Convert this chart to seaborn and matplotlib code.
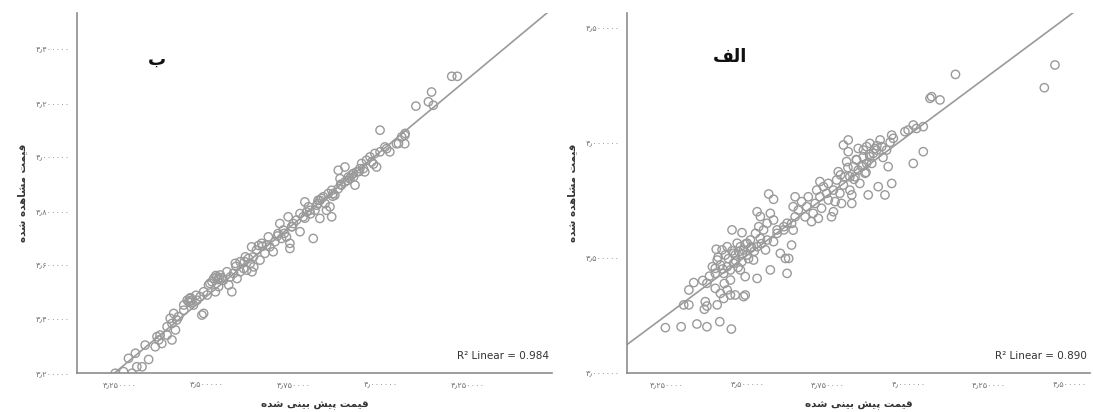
import matplotlib
matplotlib.use('Agg')
import matplotlib.pyplot as plt
import seaborn as sns
import pandas as pd

# panel "ب" : predicted vs observed
b_pred = [3.236, 3.260, 3.284, 3.274, 3.294, 3.298, 3.313, 3.332, 3.322, 3.351, 3.361, 3.370, 3.356, 3.365,
          3.399, 3.385, 3.385, 3.399, 3.413, 3.409, 3.394, 3.404, 3.418, 3.433, 3.433, 3.447, 3.456, 3.461,
          3.471, 3.485, 3.490, 3.480, 3.490, 3.500, 3.504, 3.514, 3.519, 3.528, 3.538, 3.533, 3.524, 3.547,
          3.562, 3.571, 3.557, 3.567, 3.576, 3.586, 3.595, 3.581, 3.595, 3.610, 3.624, 3.629, 3.634,
          3.605, 3.614, 3.619, 3.443, 3.450, 3.452, 3.525, 3.535, 3.530,
          3.628, 3.633, 3.652, 3.657, 3.666, 3.676, 3.680, 3.695, 3.690, 3.704, 3.709, 3.714, 3.728, 3.733,
          3.738, 3.738, 3.743, 3.748, 3.757, 3.767, 3.767, 3.776, 3.781, 3.791, 3.795, 3.805, 3.810, 3.815,
          3.819, 3.824, 3.829, 3.834, 3.839, 3.843, 3.848, 3.853, 3.858, 3.858, 3.867, 3.877, 3.877, 3.882,
          3.886, 3.896, 3.896, 3.906, 3.915, 3.920, 3.925, 3.930, 3.944, 3.949, 3.953, 3.958, 3.968, 3.973,
          3.982, 3.987, 3.997, 3.997, 4.011, 4.016, 4.025, 4.044, 4.059, 4.068, 4.068,
          3.642, 3.671, 3.719, 3.786, 3.824, 3.862, 3.910, 3.939,
          4.050, 4.069, 4.100, 4.136, 4.150, 4.145, 4.203, 4.219,
          3.452, 3.468, 3.508, 3.541, 3.583, 3.607, 3.659, 3.702, 3.744, 3.781, 3.818, 3.861, 3.903,
          3.936, 3.978, 3.648, 3.722, 3.797, 3.884, 3.921]
b_obs = [3.199, 3.205, 3.199, 3.254, 3.273, 3.223, 3.223, 3.250, 3.303, 3.297, 3.322, 3.309, 3.334, 3.340,
         3.322, 3.340, 3.371, 3.383, 3.396, 3.359, 3.402, 3.420, 3.408, 3.432, 3.451, 3.463, 3.469, 3.451,
         3.469, 3.414, 3.420, 3.482, 3.500, 3.488, 3.525, 3.537, 3.549, 3.555, 3.562, 3.519, 3.500, 3.543,
         3.525, 3.500, 3.574, 3.555, 3.568, 3.549, 3.574, 3.605, 3.611, 3.629, 3.605, 3.574, 3.592,
         3.586, 3.580, 3.623, 3.469, 3.475, 3.460, 3.560, 3.550, 3.545,
         3.666, 3.629, 3.617, 3.679, 3.642, 3.703, 3.666, 3.685, 3.648, 3.715, 3.752, 3.697, 3.703, 3.777,
         3.679, 3.660, 3.740, 3.752, 3.765, 3.722, 3.789, 3.777, 3.832, 3.814, 3.801, 3.697, 3.801, 3.820,
         3.838, 3.771, 3.845, 3.851, 3.826, 3.801, 3.863, 3.814, 3.875, 3.777, 3.857, 3.881, 3.949, 3.918,
         3.894, 3.961, 3.906, 3.924, 3.931, 3.937, 3.894, 3.943, 3.974, 3.955, 3.943, 3.986, 3.998, 3.980,
         4.011, 3.961, 4.097, 4.017, 4.035, 4.029, 4.017, 4.047, 4.072, 4.078, 4.047,
         3.654, 3.672, 3.728, 3.795, 3.838, 3.863, 3.918, 3.955,
         4.048, 4.085, 4.186, 4.202, 4.189, 4.238, 4.296, 4.296,
         3.478, 3.487, 3.531, 3.552, 3.594, 3.612, 3.668, 3.706, 3.741, 3.772, 3.826, 3.853, 3.911,
         3.944, 3.972, 3.671, 3.716, 3.788, 3.897, 3.925]

# panel "الف" : predicted vs observed
alef_pred = [3.245, 3.294, 3.343, 3.374, 3.414, 3.450, 3.318, 3.333, 3.302, 3.318, 3.369, 3.374, 3.366, 3.406,
             3.374, 3.400, 3.400, 3.416, 3.426, 3.437, 3.447, 3.462, 3.488, 3.493, 3.400, 3.406, 3.403, 3.416,
             3.421, 3.431, 3.437, 3.447, 3.457, 3.462, 3.468, 3.478, 3.478, 3.483, 3.493, 3.452, 3.483, 3.499,
             3.509, 3.519, 3.525, 3.530, 3.530, 3.540, 3.535, 3.540, 3.550, 3.556, 3.561, 3.571, 3.571, 3.581,
             3.581, 3.592, 3.602, 3.613, 3.618, 3.623, 3.628, 3.623, 3.566, 3.581,
             3.457, 3.488, 3.509, 3.530, 3.561, 3.592, 3.613, 3.437, 3.426, 3.447, 3.473, 3.499,
             3.637, 3.642, 3.637, 3.648, 3.642, 3.648, 3.658, 3.668, 3.679, 3.684, 3.689, 3.699, 3.704, 3.710,
             3.715, 3.720, 3.725, 3.730, 3.725, 3.736, 3.751, 3.751, 3.761, 3.767, 3.772, 3.777, 3.782, 3.787,
             3.792, 3.798, 3.803, 3.808, 3.813, 3.798, 3.813, 3.818, 3.824, 3.824, 3.829, 3.834, 3.844, 3.849,
             3.855, 3.860, 3.865, 3.870, 3.875, 3.880, 3.886, 3.891, 3.896, 3.906, 3.912, 3.917, 3.927, 3.932,
             3.937, 3.948, 3.948, 3.953, 3.989, 3.999, 4.015, 4.025, 4.015, 4.046, 4.046, 4.067, 4.072, 4.098,
             4.146, 4.422, 4.455,
             3.839, 3.860, 3.880, 3.901, 3.818, 3.844, 3.870, 3.767, 3.746,
             3.382, 3.391, 3.409, 3.423, 3.441, 3.452, 3.463, 3.471, 3.484, 3.494, 3.503, 3.512, 3.521,
             3.543, 3.361, 3.428,
             3.789, 3.812, 3.838, 3.858, 3.879, 3.902, 3.921, 3.943, 3.831, 3.868]
alef_obs = [3.197, 3.201, 3.213, 3.201, 3.223, 3.191, 3.361, 3.393, 3.296, 3.296, 3.310, 3.291, 3.277, 3.296,
            3.390, 3.433, 3.368, 3.346, 3.324, 3.361, 3.339, 3.339, 3.332, 3.339, 3.455, 3.491, 3.538, 3.469,
            3.535, 3.513, 3.549, 3.448, 3.477, 3.513, 3.564, 3.549, 3.448, 3.484, 3.419, 3.622, 3.610, 3.564,
            3.578, 3.491, 3.607, 3.411, 3.701, 3.680, 3.636, 3.585, 3.622, 3.535, 3.651, 3.694, 3.448, 3.665,
            3.571, 3.607, 3.520, 3.622, 3.498, 3.433, 3.498, 3.651, 3.778, 3.755,
            3.520, 3.535, 3.542, 3.549, 3.578, 3.622, 3.636, 3.462, 3.433, 3.404, 3.527, 3.513,
            3.556, 3.621, 3.650, 3.679, 3.723, 3.766, 3.708, 3.745, 3.679, 3.723, 3.766, 3.658, 3.694, 3.737,
            3.795, 3.672, 3.766, 3.716, 3.832, 3.810, 3.752, 3.824, 3.679, 3.701, 3.745, 3.839, 3.875, 3.781,
            3.737, 3.817, 3.853, 3.919, 3.962, 3.991, 4.013, 3.795, 3.737, 3.774, 3.897, 3.853, 3.976, 3.824,
            3.897, 3.940, 3.868, 3.984, 3.774, 3.998, 3.911, 3.955, 3.976, 3.810, 4.013, 3.984, 3.774, 3.969,
            3.897, 3.824, 4.034, 4.020, 4.049, 4.056, 4.078, 4.063, 3.911, 4.071, 3.962, 4.194, 4.201, 4.187,
            4.298, 4.240, 4.339,
            3.926, 3.969, 3.940, 3.969, 3.853, 3.882, 3.911, 3.795, 3.781,
            3.421, 3.462, 3.503, 3.452, 3.497, 3.531, 3.488, 3.459, 3.518, 3.561, 3.497, 3.548, 3.529,
            3.562, 3.402, 3.389,
            3.861, 3.893, 3.928, 3.902, 3.951, 3.988, 3.937, 4.003, 3.842, 3.872]

b_r2 = 0.984
alef_r2 = 0.890

b_xticks = [3.25, 3.5, 3.75, 4.0, 4.25]
b_xticklabels = ['۳٫۲۵۰۰۰۰', '۳٫۵۰۰۰۰۰', '۳٫۷۵۰۰۰۰', '۴٫۰۰۰۰۰۰', '۴٫۲۵۰۰۰۰']
b_yticks = [3.2, 3.4, 3.6, 3.8, 4.0, 4.2, 4.4]
b_yticklabels = ['۳٫۲۰۰۰۰۰', '۳٫۴۰۰۰۰۰', '۳٫۶۰۰۰۰۰', '۳٫۸۰۰۰۰۰', '۴٫۰۰۰۰۰۰', '۴٫۲۰۰۰۰۰', '۴٫۴۰۰۰۰۰']
alef_xticks = [3.25, 3.5, 3.75, 4.0, 4.25, 4.5]
alef_xticklabels = ['۳٫۲۵۰۰۰۰', '۳٫۵۰۰۰۰۰', '۳٫۷۵۰۰۰۰', '۴٫۰۰۰۰۰۰', '۴٫۲۵۰۰۰۰', '۴٫۵۰۰۰۰۰']
alef_yticks = [3.0, 3.5, 4.0, 4.5]
alef_yticklabels = ['۳٫۰۰۰۰۰۰', '۳٫۵۰۰۰۰۰', '۴٫۰۰۰۰۰۰', '۴٫۵۰۰۰۰۰']

x_title = 'قیمت پیش بینی شده'
y_title = 'قیمت مشاهده شده'

# arabic presentation forms: isolated, final, initial, medial
FORMS = {
    'ا': ('\uFE8D', '\uFE8E', None, None),
    'ب': ('\uFE8F', '\uFE90', '\uFE91', '\uFE92'),
    'پ': ('\uFB56', '\uFB57', '\uFB58', '\uFB59'),
    'ت': ('\uFE95', '\uFE96', '\uFE97', '\uFE98'),
    'د': ('\uFEA9', '\uFEAA', None, None),
    'ش': ('\uFEB5', '\uFEB6', '\uFEB7', '\uFEB8'),
    'ف': ('\uFED1', '\uFED2', '\uFED3', '\uFED4'),
    'ق': ('\uFED5', '\uFED6', '\uFED7', '\uFED8'),
    'ل': ('\uFEDD', '\uFEDE', '\uFEDF', '\uFEE0'),
    'م': ('\uFEE1', '\uFEE2', '\uFEE3', '\uFEE4'),
    'ن': ('\uFEE5', '\uFEE6', '\uFEE7', '\uFEE8'),
    'ه': ('\uFEE9', '\uFEEA', '\uFEEB', '\uFEEC'),
    'ی': ('\uFBFC', '\uFBFD', '\uFBFE', '\uFBFF'),
}


def shape(text):
    # join letters into their contextual forms, then reverse for right-to-left display
    out = []
    for i, c in enumerate(text):
        if c not in FORMS:
            out.append(c)
            continue
        prev = text[i - 1] if i > 0 else None
        nxt = text[i + 1] if i + 1 < len(text) else None
        join_prev = prev in FORMS and FORMS[prev][2] is not None
        join_next = nxt in FORMS and FORMS[c][2] is not None
        iso, fin, ini, med = FORMS[c]
        if join_prev and join_next:
            out.append(med)
        elif join_prev:
            out.append(fin)
        elif join_next:
            out.append(ini)
        else:
            out.append(iso)
    return ''.join(reversed(out))


sns.set_style('white')
plt.rcParams['font.family'] = ['DejaVu Sans']

GRAY = '#9a9a9a'


def panel(ax, pred, obs, xlim, ylim, xticks, xticklabels, yticks, yticklabels, r2, tag, tag_pos):
    df = pd.DataFrame({'pred': pred, 'obs': obs})
    ax.set_xlim(*xlim)
    ax.set_ylim(*ylim)
    sns.regplot(data=df, x='pred', y='obs', ax=ax, ci=None, truncate=False, color=GRAY,
                scatter_kws={'facecolors': 'none', 'edgecolors': GRAY, 's': 36, 'linewidths': 1.0, 'alpha': 1},
                line_kws={'color': GRAY, 'linewidth': 1.2})
    ax.set_xlim(*xlim)
    ax.set_ylim(*ylim)
    ax.set_xticks(xticks)
    ax.set_xticklabels(xticklabels)
    ax.set_yticks(yticks)
    ax.set_yticklabels(yticklabels)
    ax.tick_params(length=0, labelsize=6, labelcolor='#777777', pad=5)
    for s in ['top', 'right']:
        ax.spines[s].set_visible(False)
    for s in ['left', 'bottom']:
        ax.spines[s].set_color('#8c8c8c')
        ax.spines[s].set_linewidth(1.2)
    ax.set_xlabel(shape(x_title), fontsize=7.5, fontweight='bold', color='#333333', labelpad=8)
    ax.set_ylabel(shape(y_title), fontsize=7.5, fontweight='bold', color='#333333', labelpad=6)
    ax.text(0.993, 0.047, f'R² Linear = {r2:.3f}', transform=ax.transAxes, ha='right', va='center',
            fontsize=7.5, color='#333333')
    ax.text(tag_pos[0], tag_pos[1], shape(tag), transform=ax.transAxes, ha='center', va='center',
            fontsize=13, fontweight='bold', color='#111111')


fig = plt.figure(figsize=(10.93, 4.12), dpi=100)
ax_b = fig.add_axes([0.0704, 0.0947, 0.4346, 0.8738])
ax_a = fig.add_axes([0.5737, 0.0947, 0.4236, 0.8738])

panel(ax_b, b_pred, b_obs, (3.126, 4.491), (3.2, 4.53), b_xticks, b_xticklabels,
      b_yticks, b_yticklabels, b_r2, 'ب', (0.168, 0.869))
panel(ax_a, alef_pred, alef_obs, (3.126, 4.564), (3.0, 4.565), alef_xticks, alef_xticklabels,
      alef_yticks, alef_yticklabels, alef_r2, 'الف', (0.222, 0.878))

fig.savefig('out.png', dpi=100)
